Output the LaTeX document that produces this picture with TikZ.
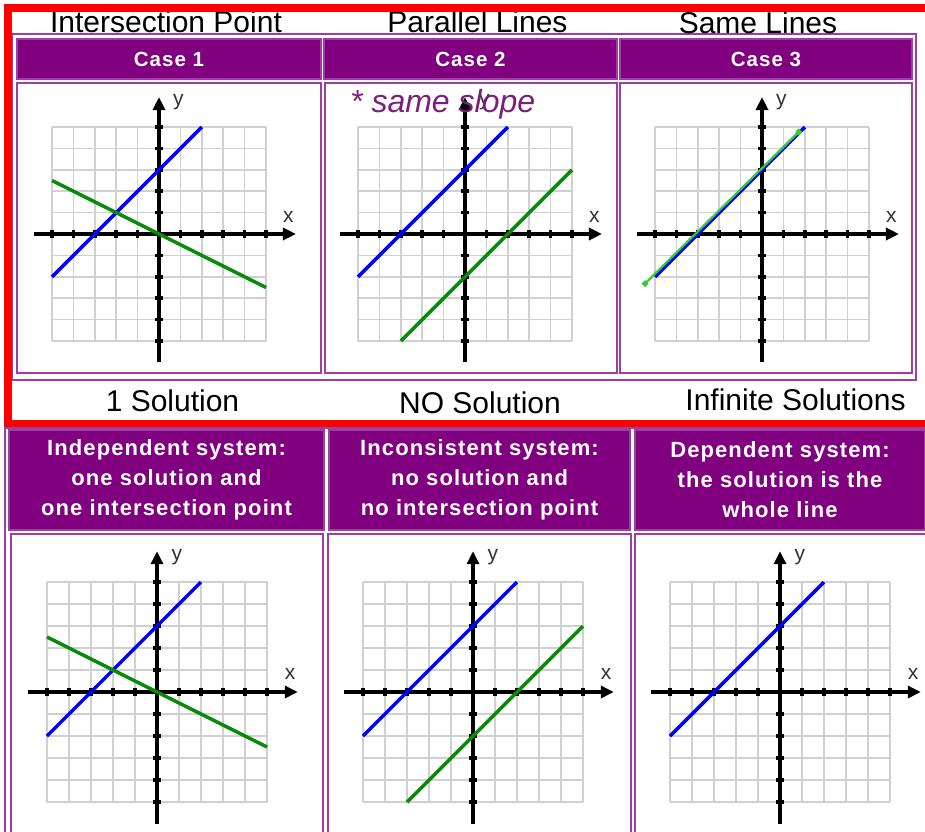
\documentclass[tikz,border=0pt]{standalone}
\usepackage{fontspec}
\setmainfont{Liberation Sans}
\newfontfamily\headfont[LetterSpace=5]{Liberation Sans}
\usepackage{xcolor}
\definecolor{framered}{HTML}{FF0000}
\definecolor{headpurple}{HTML}{800080}
\definecolor{cellborder}{HTML}{9B3FA5}
\definecolor{gridgray}{HTML}{D0D0D0}
\definecolor{labelgray}{HTML}{333333}
\definecolor{lineblue}{HTML}{0000FF}
\definecolor{linegreen}{HTML}{0A8A0A}
\definecolor{limegreen}{HTML}{33CC33}
\definecolor{inkpurple}{HTML}{7A1F7A}
\usepackage{tikz}
\usetikzlibrary{arrows.meta}
\tikzset{
    outerframe/.style={draw=framered, line width=8pt, line join=miter},
    tableframe/.style={draw=cellborder, line width=1.2pt},
    headcell/.style={draw=cellborder, fill=headpurple, line width=1.2pt, text=white, align=center,
        font=\headfont\bfseries\fontsize{20.5}{30}\selectfont, inner sep=0pt},
    systemcell/.style={headcell, font=\headfont\bfseries\fontsize{22}{30}\selectfont},
    bodycell/.style={draw=cellborder, fill=white, line width=1.2pt, inner sep=0pt},
    caption/.style={font=\fontsize{30}{34}\selectfont, anchor=base, inner sep=0pt},
    note/.style={font=\itshape\fontsize{32}{34}\selectfont, text=inkpurple, anchor=base west, inner sep=0pt},
    gridline/.style={draw=gridgray, line width=1.5pt},
    axisline/.style={line width=3.5pt, -{Triangle[length=13pt,width=12pt]}},
    tickmark/.style={line width=3.5pt},
    axislabel/.style={font=\fontsize{21}{21}\selectfont, text=labelgray, inner sep=0pt},
    bline/.style={draw=lineblue, line width=3.5pt},
    gline/.style={draw=linegreen, line width=3.5pt},
    limeline/.style={draw=limegreen, line width=2.2pt,
        {Square[length=5pt,width=5pt]}-{Square[length=5pt,width=5pt]}}
}
% grid, axes, ticks and axis names of one plane; #1 = name prefix
\newcommand{\planegrid}[1]{%
  \draw[gridline, step=1] (-5,-5) grid (5,5);
  \draw[axisline] (-5.85,0) -- (6.4,0);
  \draw[axisline] (0,-6) -- (0,6.4);
  \foreach \t in {-5,-4,-3,-2,-1,1,2,3,4,5} {
    \draw[tickmark] (\t,-0.2) -- (\t,0.2);
    \draw[tickmark] (-0.2,\t) -- (0.2,\t);
  }
  \node[axislabel] (#1x) at (6.05,0.8) {x};
  \node[axislabel] (#1y) at (0.9,6.15) {y};
}

\begin{document}
\begin{tikzpicture}[x=1pt, y=-1pt]
  \clip (0,0) rectangle (925,831);
  \fill[white] (0,0) rectangle (925,831);

  % Upper table: the three cases
  \draw[tableframe] (12.5,34) rectangle (916,380);
  \node[headcell, minimum width=304pt, minimum height=40pt] (case1) at (169,59) {Case 1};
  \node[headcell, minimum width=293pt, minimum height=40pt] (case2) at (470.5,59) {Case 2};
  \node[headcell, minimum width=292pt, minimum height=40pt] (case3) at (766,59) {Case 3};
  \node[bodycell, minimum width=304pt, minimum height=290pt] (plot1) at (169,228) {};
  \node[bodycell, minimum width=292pt, minimum height=290pt] (plot2) at (471,228) {};
  \node[bodycell, minimum width=292pt, minimum height=290pt] (plot3) at (766,228) {};

  % Case 1
  \begin{scope}[shift={(159,234)}, x=21.4pt, y=21.4pt]
    \planegrid{a}
    \draw[bline] (-5,-2) -- (2,5);
    \draw[gline] (-5,2.5) -- (5,-2.5);
  \end{scope}
  % Case 2
  \begin{scope}[shift={(465,234)}, x=21.4pt, y=21.4pt]
    \planegrid{b}
    \draw[bline] (-5,-2) -- (2,5);
    \draw[gline] (-3,-5) -- (5,3);
  \end{scope}
  % Case 3
  \begin{scope}[shift={(762,234)}, x=21.4pt, y=21.4pt]
    \planegrid{c}
    \draw[bline] (-5,-2) -- (2,5);
    \draw[limeline] (-5.55,-2.4) -- (1.8,4.85);
  \end{scope}

  \node[note] (slopenote) at (350,112) {* same slope};

  % Labels round the upper table
  \node[caption] (lblpoint) at (166,32) {Intersection Point};
  \node[caption] (lblparallel) at (477.5,32) {Parallel Lines};
  \node[caption] (lblsame) at (758,33) {Same Lines};
  \node[caption] (lblone) at (172.5,411) {1 Solution};
  \node[caption] (lblno) at (480,413) {NO Solution};
  \node[caption] (lblinf) at (795.5,410) {Infinite Solutions};

  \draw[outerframe] (935,8) -- (8,8) -- (8,424) -- (935,424);

  % Lower table: the three systems
  \draw[tableframe] (5,428) rectangle (935,845);
  \node[systemcell, minimum width=315pt, minimum height=100pt] (indep) at (166.5,480)
    {Independent system:\\one solution and\\one intersection point};
  \node[systemcell, minimum width=301pt, minimum height=100pt] (incons) at (479.5,480)
    {Inconsistent system:\\no solution and\\no intersection point};
  \node[systemcell, minimum width=290pt, minimum height=100pt] (dep) at (780,480)
    {Dependent system:\\the solution is the\\whole line};
  \node[bodycell, minimum width=312pt, minimum height=316pt] (plot4) at (167,692) {};
  \node[bodycell, minimum width=303pt, minimum height=316pt] (plot5) at (479.5,692) {};
  \node[bodycell, minimum width=300pt, minimum height=316pt] (plot6) at (785,692) {};

  % Independent
  \begin{scope}[shift={(157,692)}, x=22pt, y=22pt]
    \planegrid{d}
    \draw[bline] (-5,-2) -- (2,5);
    \draw[gline] (-5,2.5) -- (5,-2.5);
  \end{scope}
  % Inconsistent
  \begin{scope}[shift={(473,692)}, x=22pt, y=22pt]
    \planegrid{e}
    \draw[bline] (-5,-2) -- (2,5);
    \draw[gline] (-3,-5) -- (5,3);
  \end{scope}
  % Dependent
  \begin{scope}[shift={(780,692)}, x=22pt, y=22pt]
    \planegrid{f}
    \draw[bline] (-5,-2) -- (2,5);
  \end{scope}
\end{tikzpicture}
\end{document}
